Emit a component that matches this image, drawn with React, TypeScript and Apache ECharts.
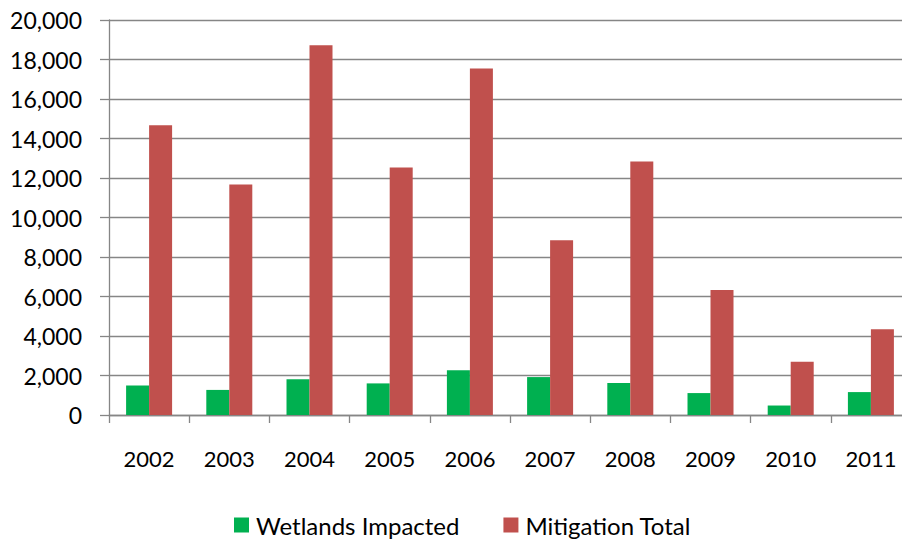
import React, { useEffect, useRef } from "react";
import * as echarts from "echarts";

const years = ["2002", "2003", "2004", "2005", "2006", "2007", "2008", "2009", "2010", "2011"];
const wetlandsImpacted = [1500, 1270, 1810, 1600, 2260, 1920, 1620, 1110, 480, 1160];
const mitigationTotal = [14670, 11670, 18720, 12530, 17540, 8850, 12830, 6330, 2700, 4340];
const yTicks = { min: 0, max: 20000, interval: 2000 };

const FONT = "Lato, 'Liberation Sans', sans-serif";
const AXIS_GRAY = "#868686";

export default function App() {
  const ref = useRef<HTMLDivElement>(null);

  useEffect(() => {
    if (!ref.current) return;
    const chart = echarts.init(ref.current, undefined, { renderer: "svg" });
    chart.setOption({
      animation: false,
      backgroundColor: "#ffffff",
      textStyle: { fontFamily: FONT },
      // the plot runs a little past the right edge of the canvas
      grid: {
        left: 109,
        top: 20,
        width: 802,
        height: 395,
        containLabel: false,
        outerBoundsMode: "none",
      },
      legend: {
        left: 229,
        top: 508,
        padding: 5,
        itemWidth: 15,
        itemHeight: 15,
        itemGap: 44,
        icon: "rect",
        textStyle: { fontFamily: FONT, fontSize: 24, color: "#000", padding: [0, 0, 0, 2] },
        data: ["Wetlands Impacted", "Mitigation Total"],
      },
      xAxis: {
        type: "category",
        data: years,
        axisLine: { show: true, lineStyle: { color: AXIS_GRAY, width: 1.3 } },
        axisTick: { show: true, length: 8, lineStyle: { color: AXIS_GRAY, width: 1.3 } },
        axisLabel: { color: "#000", fontSize: 22, fontFamily: FONT, margin: 32 },
      },
      yAxis: {
        type: "value",
        min: yTicks.min,
        max: yTicks.max,
        interval: yTicks.interval,
        axisLine: { show: true, lineStyle: { color: AXIS_GRAY, width: 1.3 } },
        axisTick: { show: true, inside: false, length: 9, lineStyle: { color: AXIS_GRAY, width: 1.3 } },
        splitLine: { show: true, lineStyle: { color: AXIS_GRAY, width: 1.3 } },
        axisLabel: {
          color: "#000",
          fontSize: 23,
          fontFamily: FONT,
          margin: 27,
          formatter: (v: number) => v.toLocaleString("en-US"),
        },
      },
      series: [
        {
          name: "Wetlands Impacted",
          type: "bar",
          data: wetlandsImpacted,
          barWidth: 23,
          barGap: "0%",
          itemStyle: { color: "#00B050" },
        },
        {
          name: "Mitigation Total",
          type: "bar",
          data: mitigationTotal,
          barWidth: 23,
          barGap: "0%",
          itemStyle: { color: "#C0504D" },
        },
      ],
    });
    return () => chart.dispose();
  }, []);

  return (
    <div
      ref={ref}
      style={{ position: "fixed", left: 0, top: 0, width: 902, height: 539, background: "#fff" }}
    />
  );
}
